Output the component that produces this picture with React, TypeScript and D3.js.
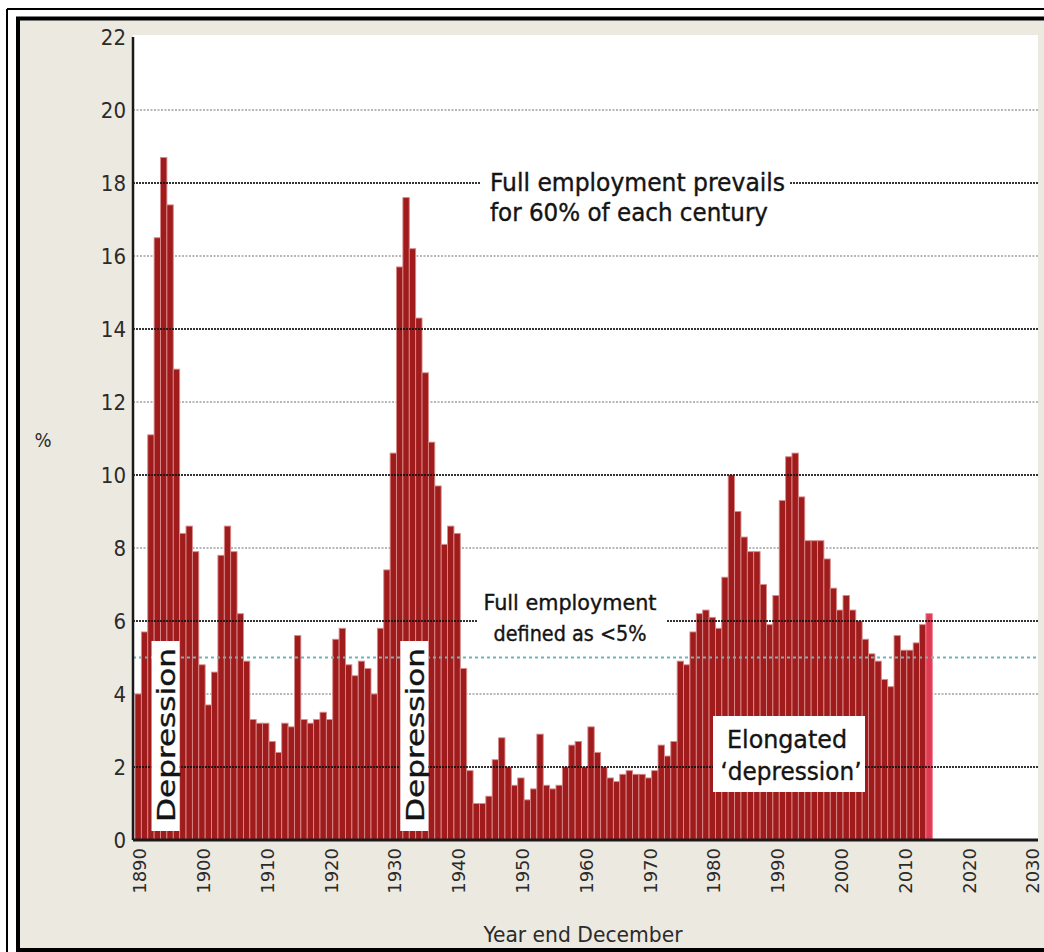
import React from 'react';
import * as d3 from 'd3';

const startYear = 1890;
const unemployment = [
  4.0, 5.7, 11.1, 16.5, 18.7, 17.4, 12.9, 8.4, 8.6, 7.9,
  4.8, 3.7, 4.6, 7.8, 8.6, 7.9, 6.2, 4.9, 3.3, 3.2,
  3.2, 2.7, 2.4, 3.2, 3.1, 5.6, 3.3, 3.2, 3.3, 3.5,
  3.3, 5.5, 5.8, 4.8, 4.5, 4.9, 4.7, 4.0, 5.8, 7.4,
  10.6, 15.7, 17.6, 16.2, 14.3, 12.8, 10.9, 9.7, 8.1, 8.6,
  8.4, 4.7, 1.9, 1.0, 1.0, 1.2, 2.2, 2.8, 2.0, 1.5,
  1.7, 1.1, 1.4, 2.9, 1.5, 1.4, 1.5, 2.0, 2.6, 2.7,
  2.0, 3.1, 2.4, 2.0, 1.7, 1.6, 1.8, 1.9, 1.8, 1.8,
  1.7, 1.9, 2.6, 2.3, 2.7, 4.9, 4.8, 5.7, 6.2, 6.3,
  6.1, 5.8, 7.2, 10.0, 9.0, 8.3, 7.9, 7.9, 7.0, 5.9,
  6.7, 9.3, 10.5, 10.6, 9.4, 8.2, 8.2, 8.2, 7.7, 6.9,
  6.3, 6.7, 6.3, 6.0, 5.5, 5.1, 4.9, 4.4, 4.2, 5.6,
  5.2, 5.2, 5.4, 5.9, 6.2,
];
const yTicks = [0, 2, 4, 6, 8, 10, 12, 14, 16, 18, 20, 22];
const xTicks = [1890, 1900, 1910, 1920, 1930, 1940, 1950, 1960, 1970, 1980, 1990, 2000, 2010, 2020, 2030];
const blackGrid = [2, 6, 10, 14, 18];
const grayGrid = [4, 8, 12, 16, 20];
const fullEmploymentLevel = 5;
const depressionLabels = [1894, 1933];

const FONT = "'DejaVu Sans Condensed', 'Liberation Sans Narrow', 'Open Sans', sans-serif";
const FONT_REG = "'DejaVu Sans', 'Liberation Sans', sans-serif";

export default function App() {
  const W = 1044, H = 952;
  const plotL = 133, plotR = 1038, plotT = 35, plotB = 840;
  const x = d3.scaleLinear().domain([1890, 2030]).range([135, 1028]);
  const y = d3.scaleLinear().domain([0, 22]).range([840, 37]);
  const data = unemployment.map((v, i) => ({ year: startYear + i, value: v }));
  const lastYear = startYear + unemployment.length - 1;
  const ink = '#141414';
  const annot = { fontFamily: FONT, fill: ink, stroke: ink, strokeWidth: 0.35 } as const;

  return (
    <svg width={W} height={H} style={{ position: 'absolute', left: 0, top: 0, display: 'block' }}>
      <rect x={0} y={0} width={W} height={H} fill="#ffffff" />
      {/* outer thin frame */}
      <line x1={7} x2={W} y1={9} y2={9} stroke="#000" strokeWidth={2} />
      <line x1={7} x2={7} y1={9} y2={H} stroke="#000" strokeWidth={2} />
      {/* beige panel with thick frame */}
      <rect x={18} y={18.5} width={W + 20} height={950 - 18.5} fill="#ece9e0" stroke="#000" strokeWidth={4} />
      {/* plot area */}
      <rect x={plotL} y={plotT} width={plotR - plotL} height={plotB - plotT} fill="#ffffff" />

      {/* gray gridlines */}
      {grayGrid.map((g) => (
        <line key={'g' + g} x1={plotL} x2={plotR} y1={y(g)} y2={y(g)} stroke="#a0a0a0" strokeWidth={1.3} strokeDasharray="2,1.5" />
      ))}

      {/* bars */}
      {data.map((d) => (
        <rect
          key={d.year}
          x={x(d.year)}
          y={y(d.value)}
          width={x(d.year + 1) - x(d.year)}
          height={y(0) - y(d.value)}
          fill={d.year === lastYear ? '#e03a55' : '#a01b1b'}
          stroke={d.year === lastYear ? '#f07a8c' : '#d88a8a'}
          strokeWidth={0.9}
        />
      ))}

      {/* black gridlines */}
      {blackGrid.map((g) => (
        <line key={'b' + g} x1={plotL} x2={plotR} y1={y(g)} y2={y(g)} stroke="#111" strokeWidth={2.2} strokeDasharray="2,1" strokeOpacity={0.85} />
      ))}

      {/* full employment threshold */}
      <line x1={plotL} x2={plotR} y1={y(fullEmploymentLevel)} y2={y(fullEmploymentLevel)} stroke="#6fb3b3" strokeWidth={2} strokeDasharray="3,3" />

      {/* axes */}
      <line x1={plotL} x2={plotL} y1={y(22)} y2={plotB} stroke="#1a1a1a" strokeWidth={2.5} />
      <line x1={plotL} x2={plotR} y1={plotB} y2={plotB} stroke="#1a1a1a" strokeWidth={3} />

      {/* y tick labels */}
      {yTicks.map((t) => (
        <text key={'yt' + t} x={126} y={y(t)} dy="0.35em" textAnchor="end" fontFamily={FONT} fontSize={22} fill="#2b2b2b">
          {t}
        </text>
      ))}
      <text x={43} y={440} textAnchor="middle" fontFamily={FONT} fontSize={20} fill="#2b2b2b" dy="0.35em">%</text>

      {/* x tick labels */}
      {xTicks.map((t) => (
        <text key={'xt' + t} transform={`translate(${x(t) + 5},${848}) rotate(-90)`} textAnchor="end" dy="0.35em" fontFamily={FONT_REG} fontSize={18} fill="#2b2b2b">
          {t}
        </text>
      ))}
      <text x={583} y={934} dy="0.35em" textAnchor="middle" fontFamily={FONT} fontSize={22} fill="#2b2b2b" textLength={199} lengthAdjust="spacingAndGlyphs">Year end December</text>

      {/* Depression labels */}
      {depressionLabels.map((yr) => {
        const cx = x(yr) + 5;
        return (
          <g key={'dep' + yr}>
            <rect x={cx - 14} y={641} width={28} height={190} fill="#ffffff" />
            <text transform={`translate(${cx + 1},${735}) rotate(-90)`} textAnchor="middle" dy="0.35em" fontSize={25} textLength={174} lengthAdjust="spacingAndGlyphs" {...annot}>
              Depression
            </text>
          </g>
        );
      })}

      {/* Elongated depression */}
      <rect x={713} y={716} width={152} height={76} fill="#ffffff" />
      <text x={787} y={739} dy="0.35em" textAnchor="middle" fontSize={25} textLength={120} lengthAdjust="spacingAndGlyphs" {...annot}>Elongated</text>
      <text x={791} y={771} dy="0.35em" textAnchor="middle" fontSize={25} textLength={141} lengthAdjust="spacingAndGlyphs" {...annot}>‘depression’</text>

      {/* Full employment prevails */}
      <rect x={481} y={168} width={308} height={60} fill="#ffffff" />
      <text x={490} y={183} dy="0.35em" fontSize={24} textLength={295} lengthAdjust="spacingAndGlyphs" {...annot}>Full employment prevails</text>
      <text x={490} y={213} dy="0.35em" fontSize={24} textLength={278} lengthAdjust="spacingAndGlyphs" {...annot}>for 60% of each century</text>

      {/* Full employment defined */}
      <rect x={478} y={588} width={188} height={60} fill="#ffffff" />
      <text x={570} y={603} dy="0.35em" textAnchor="middle" fontSize={21} textLength={173} lengthAdjust="spacingAndGlyphs" {...annot}>Full employment</text>
      <text x={570} y={634} dy="0.35em" textAnchor="middle" fontSize={21} textLength={153} lengthAdjust="spacingAndGlyphs" {...annot}>defined as &lt;5%</text>
    </svg>
  );
}
